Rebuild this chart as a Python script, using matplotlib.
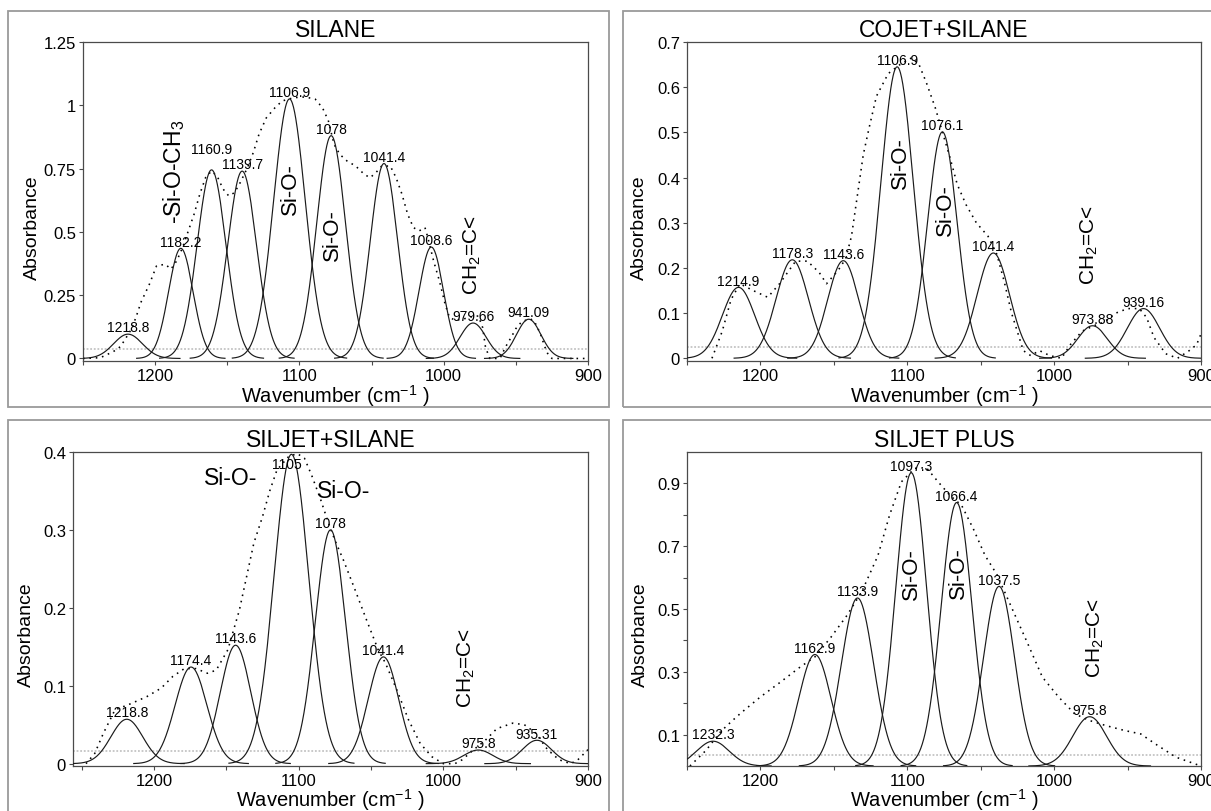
import numpy as np
import matplotlib
matplotlib.use('Agg')
import matplotlib.pyplot as plt
from matplotlib.patches import Rectangle
from matplotlib.ticker import MultipleLocator, FixedLocator

plt.rcParams['font.family'] = ['Liberation Sans', 'DejaVu Sans']
plt.rcParams['mathtext.fontset'] = 'custom'
plt.rcParams['mathtext.rm'] = 'Liberation Sans'
plt.rcParams['mathtext.it'] = 'Liberation Sans:italic'
plt.rcParams['mathtext.bf'] = 'Liberation Sans:bold'
plt.rcParams['mathtext.sf'] = 'Liberation Sans'

# ---------------- data ----------------
titles = ['SILANE', 'COJET+SILANE', 'SILJET+SILANE', 'SILJET PLUS']

# SILANE
silane_centers = [1218.8, 1182.2, 1160.9, 1139.7, 1106.9, 1078, 1041.4, 1008.6, 979.66, 941.09]
silane_heights = [0.096, 0.435, 0.745, 0.74, 1.025, 0.88, 0.77, 0.44, 0.14, 0.155]
silane_widths = [10, 8.5, 10, 10, 11, 10, 9.5, 8.5, 9, 8.5]
silane_labels = ['1218.8', '1182.2', '1160.9', '1139.7', '1106.9', '1078', '1041.4', '1008.6', '979.66', '941.09']
silane_spec_x = [1250, 1238, 1229, 1224, 1221, 1216, 1212, 1210, 1204, 1199, 1193, 1189, 1185, 1181, 1177,
                 1173, 1169, 1165, 1161, 1157, 1153, 1149, 1145, 1141, 1136, 1132, 1128, 1123, 1117, 1112,
                 1104, 1096, 1089, 1084, 1080, 1076, 1072, 1067, 1061, 1055, 1051, 1047, 1043, 1037, 1033,
                 1029, 1025, 1021, 1017, 1013, 1011, 1007, 1003, 999, 996, 992, 987, 981, 976, 973,
                 971, 968, 961, 957, 953, 950, 946, 940, 937, 933, 930, 928, 925, 900]
silane_spec_y = [0, 0.003, 0.027, 0.047, 0.074, 0.12, 0.184, 0.22, 0.293, 0.366, 0.372, 0.353, 0.386, 0.438, 0.504,
                 0.57, 0.65, 0.715, 0.74, 0.72, 0.67, 0.642, 0.655, 0.695, 0.754, 0.813, 0.886, 0.95, 0.99, 1.017,
                 1.03, 1.033, 1.024, 0.99, 0.94, 0.846, 0.806, 0.78, 0.76, 0.727, 0.714, 0.734, 0.76, 0.76, 0.714,
                 0.65, 0.57, 0.517, 0.504, 0.517, 0.478, 0.385, 0.307, 0.214, 0.162, 0.151, 0.155, 0.164, 0.168, 0.122,
                 0.043, 0, 0, 0.047, 0.086, 0.118, 0.145, 0.157, 0.145, 0.098, 0.047, 0.02, 0, 0]
silane_baseline = 0.038

# COJET+SILANE
cojet_centers = [1214.9, 1178.3, 1143.6, 1106.9, 1076.1, 1041.4, 973.88, 939.16]
cojet_heights = [0.157, 0.218, 0.216, 0.645, 0.501, 0.233, 0.072, 0.11]
cojet_widths = [11, 11, 10.5, 11, 10, 11, 10, 11]
cojet_labels = ['1214.9', '1178.3', '1143.6', '1106.9', '1076.1', '1041.4', '973.88', '939.16']
cojet_spec_x = [1233, 1226, 1220, 1214, 1205, 1195, 1187, 1176, 1168, 1160, 1155, 1147, 1142, 1138, 1134,
                1130, 1126, 1121, 1113, 1105, 1097, 1092, 1087, 1081, 1076, 1071, 1066, 1060, 1053, 1045,
                1039, 1034, 1029, 1021, 1016, 1010, 1003, 995, 989, 981, 973, 966, 958, 950, 942,
                937, 932, 924, 916, 908, 903, 900]
cojet_spec_y = [0, 0.06, 0.13, 0.165, 0.15, 0.135, 0.165, 0.215, 0.215, 0.19, 0.165, 0.195, 0.22, 0.27, 0.36,
                0.45, 0.51, 0.58, 0.63, 0.65, 0.665, 0.65, 0.61, 0.555, 0.5, 0.445, 0.385, 0.34, 0.3, 0.27,
                0.23, 0.17, 0.1, 0.017, 0.006, 0.017, 0.006, 0, 0.03, 0.06, 0.072, 0.08, 0.1, 0.11, 0.11,
                0.09, 0.046, 0.01, 0, 0.017, 0.03, 0.054]
cojet_baseline = 0.026

# SILJET+SILANE
siljet_centers = [1218.8, 1174.4, 1143.6, 1105, 1078, 1041.4, 975.8, 935.31]
siljet_heights = [0.057, 0.124, 0.152, 0.397, 0.3, 0.137, 0.0175, 0.03]
siljet_widths = [11, 11, 10.5, 12, 10.5, 10.5, 10, 10]
siljet_labels = ['1218.8', '1174.4', '1143.6', '1105', '1078', '1041.4', '975.8', '935.31']
siljet_spec_x = [1247, 1241, 1235, 1227, 1216, 1205, 1195, 1187, 1179, 1171, 1163, 1157, 1149, 1141, 1136,
                 1131, 1125, 1120, 1115, 1107, 1101, 1096, 1091, 1085, 1080, 1075, 1069, 1061, 1053, 1045,
                 1040, 1032, 1024, 1016, 1008, 1000, 992, 987, 979, 971, 963, 952, 944, 936, 928,
                 920, 912, 907, 900]
siljet_spec_y = [0, 0.013, 0.039, 0.069, 0.077, 0.086, 0.097, 0.112, 0.122, 0.122, 0.116, 0.12, 0.146, 0.197, 0.24,
                 0.283, 0.317, 0.35, 0.377, 0.394, 0.398, 0.392, 0.37, 0.34, 0.312, 0.287, 0.261, 0.223, 0.184, 0.146,
                 0.129, 0.094, 0.056, 0.026, 0.009, 0, 0, 0.005, 0.018, 0.03, 0.045, 0.052, 0.05, 0.039, 0.018,
                 0.005, 0, 0.005, 0.018]
siljet_baseline = 0.016

# SILJET PLUS
plus_centers = [1232.3, 1162.9, 1133.9, 1097.3, 1066.4, 1037.5, 975.8]
plus_heights = [0.079, 0.355, 0.535, 0.934, 0.839, 0.572, 0.157]
plus_widths = [11, 11, 11, 10.5, 10.5, 10.5, 11.5]
plus_labels = ['1232.3', '1162.9', '1133.9', '1097.3', '1066.4', '1037.5', '975.8']
plus_spec_x = [1248, 1237, 1227, 1219, 1213, 1200, 1187, 1173, 1163, 1152, 1141, 1131, 1120, 1112, 1104,
               1095, 1087, 1079, 1071, 1063, 1055, 1047, 1039, 1029, 1018, 1008, 997, 986, 976, 965,
               952, 941, 931, 917, 900]
plus_spec_y = [0, 0.05, 0.11, 0.145, 0.17, 0.22, 0.265, 0.315, 0.347, 0.41, 0.48, 0.555, 0.67, 0.8, 0.905,
               0.948, 0.95, 0.905, 0.862, 0.83, 0.755, 0.67, 0.61, 0.505, 0.39, 0.283, 0.22, 0.166, 0.145, 0.129,
               0.113, 0.102, 0.07, 0.028, 0]
plus_baseline = 0.035

# ---------------- layout ----------------
W, H = 1211, 812
fig = plt.figure(figsize=(W / 100, H / 100), dpi=100)


def rect_px(l, t, r, b):
    return [l / W, 1 - b / H, (r - l) / W, (b - t) / H]


# outer frames of the four sub-figures
for (l, t, r, b) in [(8, 12, 609, 408), (623, 12, 1216, 408), (8, 421, 609, 818), (623, 421, 1216, 818)]:
    fig.patches.append(Rectangle((l / W, 1 - b / H), (r - l) / W, (b - t) / H, transform=fig.transFigure,
                                 fill=False, edgecolor='#9a9a9a', linewidth=1.3))

panels = [
    dict(title=titles[0], rect=(83, 43, 588, 362), xlim=(1250, 900), ylim=(-0.01, 1.25),
         c=silane_centers, h=silane_heights, w=silane_widths, lab=silane_labels,
         sx=silane_spec_x, sy=silane_spec_y, base=silane_baseline,
         major=[0, 0.25, 0.5, 0.75, 1, 1.25], majlab=['0', '0.25', '0.5', '0.75', '1', '1.25'], minor=[],
         lab_off={2: (0, 10)}, ylx=-0.1,
         notes=[('-Si-O-CH$_3$', 1187, 0.74, 90, 16.5), ('Si-O-', 1106, 0.675, 90, 16),
                ('Si-O-', 1077, 0.49, 90, 16), ('CH$_2$=C<', 980, 0.41, 90, 15)]),
    dict(title=titles[1], rect=(687, 43, 1201, 362), xlim=(1250, 900), ylim=(-0.006, 0.7),
         c=cojet_centers, h=cojet_heights, w=cojet_widths, lab=cojet_labels,
         sx=cojet_spec_x, sy=cojet_spec_y, base=cojet_baseline,
         major=[0, 0.1, 0.2, 0.3, 0.4, 0.5, 0.6, 0.7],
         majlab=['0', '0.1', '0.2', '0.3', '0.4', '0.5', '0.6', '0.7'], minor=[],
         lab_off={}, ylx=-0.093,
         notes=[('Si-O-', 1104.5, 0.435, 90, 16), ('Si-O-', 1074, 0.33, 90, 16),
                ('CH$_2$=C<', 976, 0.253, 90, 15)]),
    dict(title=titles[2], rect=(73, 453, 588, 767), xlim=(1256, 900), ylim=(-0.003, 0.4),
         c=siljet_centers, h=siljet_heights, w=siljet_widths, lab=siljet_labels,
         sx=siljet_spec_x, sy=siljet_spec_y, base=siljet_baseline,
         major=[0, 0.1, 0.2, 0.3, 0.4], majlab=['0', '0.1', '0.2', '0.3', '0.4'], minor=[],
         lab_off={3: (-3, -12)}, ylx=-0.09,
         notes=[('Si-O-', 1147, 0.367, 0, 16.5), ('Si-O-', 1069, 0.35, 0, 16.5),
                ('CH$_2$=C<', 984, 0.124, 90, 15)]),
    dict(title=titles[3], rect=(687, 453, 1201, 767), xlim=(1250, 900), ylim=(0, 1.0),
         c=plus_centers, h=plus_heights, w=plus_widths, lab=plus_labels,
         sx=plus_spec_x, sy=plus_spec_y, base=plus_baseline,
         major=[0.1, 0.3, 0.5, 0.7, 0.9], majlab=['0.1', '0.3', '0.5', '0.7', '0.9'],
         minor=[0.2, 0.4, 0.6, 0.8],
         lab_off={}, ylx=-0.091,
         notes=[('Si-O-', 1097, 0.613, 90, 16), ('Si-O-', 1065, 0.618, 90, 16),
                ('CH$_2$=C<', 972, 0.41, 90, 15)]),
]

spine_col = '#4a4a4a'
for p in panels:
    ax = fig.add_axes(rect_px(*p['rect']))
    ax.set_xlim(*p['xlim'])
    ax.set_ylim(*p['ylim'])
    for s in ax.spines.values():
        s.set_color(spine_col)
        s.set_linewidth(0.9)

    # baseline (light grey)
    ax.axhline(p['base'], color='#c4c4c4', lw=1.3, ls=(0, (1, 1)), zorder=1)

    # gaussian components
    for c, h, w in zip(p['c'], p['h'], p['w']):
        lo = max(c - 3.6 * w, 900)
        hi = min(c + 3.6 * w, p['xlim'][0])
        xx = np.linspace(lo, hi, 300)
        ax.plot(xx, h * np.exp(-0.5 * ((xx - c) / w) ** 2), color='#1a1a1a', lw=0.85, zorder=3)

    # measured spectrum (dotted)
    ax.plot(p['sx'], p['sy'], color='black', lw=1.15, ls=(0, (1, 3)), zorder=2)

    # peak labels
    for i, (c, h, s) in enumerate(zip(p['c'], p['h'], p['lab'])):
        dx, dy = p['lab_off'].get(i, (0, 0))
        ax.annotate(s, xy=(c, h), xytext=(dx, 2 + dy), textcoords='offset points',
                    ha='center', va='baseline', fontsize=10, zorder=5)

    # band assignments
    for s, x, y, rot, fs in p['notes']:
        ax.text(x, y, s, rotation=rot, ha='center', va='center', fontsize=fs, zorder=5)

    # ticks
    ax.xaxis.set_major_locator(MultipleLocator(100))
    ax.xaxis.set_minor_locator(MultipleLocator(50))
    ax.yaxis.set_major_locator(FixedLocator(p['major']))
    ax.set_yticklabels(p['majlab'])
    ax.yaxis.set_minor_locator(FixedLocator(p['minor']))
    ax.tick_params(which='both', direction='out', length=3, width=0.8, color=spine_col,
                   top=False, right=False, labelsize=12, pad=2)

    ax.set_title(p['title'], fontsize=16.5, pad=4)
    ax.set_xlabel('Wavenumber (cm$^{-1}$ )', fontsize=14.5)
    ax.xaxis.label.set_va('center')
    ax.xaxis.set_label_coords(0.5, -0.106)
    ax.set_ylabel('Absorbance', fontsize=14)
    ax.yaxis.label.set_va('center')
    ax.yaxis.set_label_coords(p['ylx'], 0.42)

fig.savefig('out.png', dpi=100)
